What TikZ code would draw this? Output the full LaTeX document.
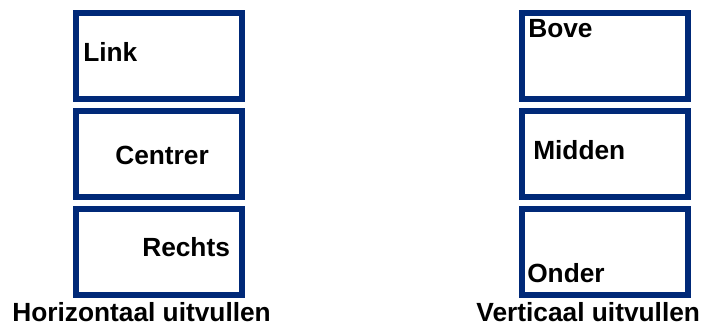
\documentclass[tikz,border=0pt]{standalone}
\usepackage{fontspec}
\setmainfont{Liberation Sans}
\usepackage{tikz}
\usetikzlibrary{positioning}
\definecolor{framenavy}{RGB}{0,41,120}
\tikzset{
  alignbox/.style={
    rectangle, draw=framenavy, line width=0.14cm,
    minimum width=4.16cm, minimum height=2.16cm,
    inner sep=0pt
  },
  boxtext/.style={
    inner sep=0pt, anchor=base west,
    font=\fontsize{18.7}{22}\selectfont\bfseries
  }
}
\begin{document}
\begin{tikzpicture}[node distance=0.15cm]
\useasboundingbox (0,0) rectangle (17.55,-8.15);

% Horizontal column
\node[alignbox] (hleft) at (3.975,-1.4) {};
\node[alignbox, below=of hleft] (hcenter) {};
\node[alignbox, below=of hcenter] (hright) {};
\node[boxtext, xshift=-1.9cm, yshift=-0.15cm] (tleft) at (hleft.center) {Link};
\node[boxtext, xshift=-1.1cm, yshift=-0.26cm] (tcenter) at (hcenter.center) {Centrer};
\node[boxtext, xshift=-0.425cm, yshift=-0.12cm] (tright) at (hright.center) {Rechts};

% Vertical column
\node[alignbox] (vtop) at (15.125,-1.4) {};
\node[alignbox, below=of vtop] (vmiddle) {};
\node[alignbox, below=of vmiddle] (vbottom) {};
\node[boxtext, xshift=-1.925cm, yshift=0.45cm] (ttop) at (vtop.center) {Bove};
\node[boxtext, xshift=-1.8cm, yshift=-0.15cm] (tmiddle) at (vmiddle.center) {Midden};
\node[boxtext, xshift=-1.95cm, yshift=-0.76cm] (tbottom) at (vbottom.center) {Onder};

% Captions
\node[boxtext, xshift=-3.675cm, yshift=-1.74cm] (hcaption) at (hright.center) {Horizontaal uitvullen};
\node[boxtext, xshift=-3.22cm, yshift=-1.74cm] (vcaption) at (vbottom.center) {Verticaal uitvullen};

\end{tikzpicture}
\end{document}
